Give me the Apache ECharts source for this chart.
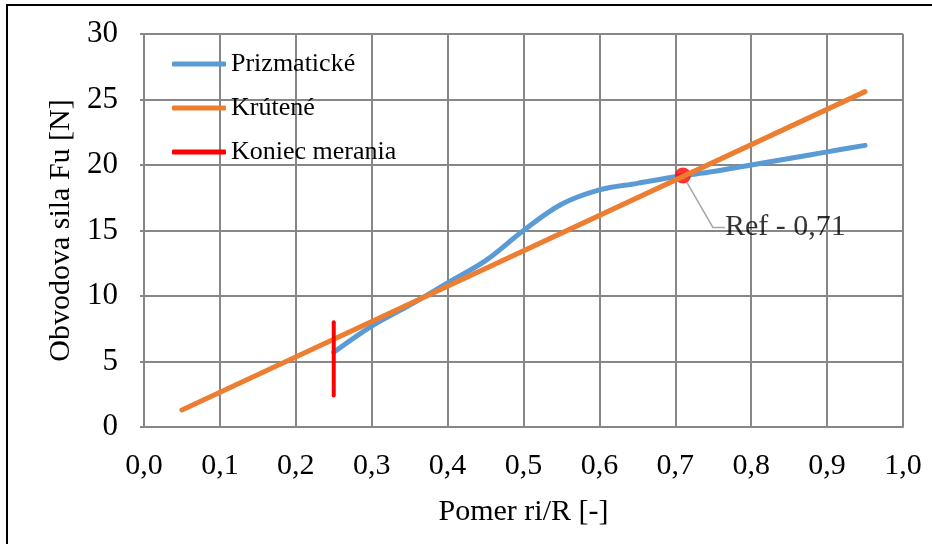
<!DOCTYPE html>
<html>
<head>
<meta charset="utf-8">
<script src="https://cdn.jsdelivr.net/npm/echarts@6/dist/echarts.min.js"></script>
<style>
  html, body { margin: 0; padding: 0; background: #fff; }
  #chart { width: 932px; height: 544px; }
</style>
</head>
<body>
<div id="chart"></div>
<script>
// Ratio ri/R on the x axis, circumferential force Fu [N] on the y axis
const prizmatickeX = [0.25, 0.30, 0.35, 0.40, 0.45, 0.50, 0.55, 0.60, 0.65, 0.70, 0.75, 0.80, 0.85, 0.90, 0.95];
const prizmatickeY = [5.7, 7.7, 9.3, 11.0, 12.7, 15.0, 17.0, 18.1, 18.6, 19.1, 19.5, 20.0, 20.5, 21.0, 21.5];

const kruteneX = [0.05, 0.95];
const kruteneY = [1.3, 25.6];

const koniecX = [0.25, 0.25];
const koniecY = [8.0, 2.4];

const refX = 0.71;
const refY = 19.2;
const refText = 'Ref - 0,71';

const seriesNames = ['Prizmatické', 'Krútené', 'Koniec merania'];
const xTitle = 'Pomer ri/R [-]';
const yTitle = 'Obvodova sila Fu [N]';

const pairs = (xs, ys) => xs.map((x, i) => [x, ys[i]]);

const FONT = 'Liberation Serif';
const GRID_COLOR = '#878787';

const chart = echarts.init(document.getElementById('chart'), null, { renderer: 'canvas' });

chart.setOption({
  animation: false,
  backgroundColor: '#fff',
  textStyle: { fontFamily: FONT },
  graphic: [{
    type: 'rect',
    shape: { x: 7, y: 5, width: 1000, height: 1000 },
    style: { fill: 'none', stroke: '#000', lineWidth: 2 },
    z: -1
  }],
  grid: { left: 144, right: 29, top: 34, bottom: 117, containLabel: false },
  legend: {
    orient: 'vertical',
    left: 167,
    top: 46,
    itemGap: 18,
    itemWidth: 54,
    itemHeight: 5,
    icon: 'roundRect',
    data: seriesNames,
    textStyle: { fontFamily: FONT, fontSize: 26, color: '#000' }
  },
  xAxis: {
    type: 'value',
    min: 0, max: 1, interval: 0.1,
    name: xTitle,
    nameLocation: 'middle',
    nameGap: 70,
    nameTextStyle: { fontFamily: FONT, fontSize: 30, color: '#000' },
    axisLine: { show: true, lineStyle: { color: GRID_COLOR, width: 2 } },
    axisTick: { show: false },
    axisLabel: {
      fontFamily: FONT, fontSize: 30, color: '#000', margin: 24,
      formatter: v => v.toFixed(1).replace('.', ',')
    },
    splitLine: { show: true, lineStyle: { color: GRID_COLOR, width: 2 } }
  },
  yAxis: {
    type: 'value',
    min: 0, max: 30, interval: 5,
    name: yTitle,
    nameLocation: 'middle',
    nameGap: 68,
    nameTextStyle: { fontFamily: FONT, fontSize: 30, color: '#000' },
    axisLine: { show: true, lineStyle: { color: GRID_COLOR, width: 2 } },
    axisTick: { show: true, length: 4, lineStyle: { color: GRID_COLOR, width: 2 } },
    axisLabel: { fontFamily: FONT, fontSize: 31, color: '#000', margin: 26 },
    splitLine: { show: true, lineStyle: { color: GRID_COLOR, width: 2 } }
  },
  series: [
    {
      name: seriesNames[0],
      type: 'line',
      data: pairs(prizmatickeX, prizmatickeY),
      smooth: 0.35,
      showSymbol: false,
      symbol: 'none',
      lineStyle: { color: '#5B9BD5', width: 5, cap: 'round' },
      itemStyle: { color: '#5B9BD5' },
      z: 2
    },
    {
      name: seriesNames[1],
      type: 'line',
      data: pairs(kruteneX, kruteneY),
      showSymbol: false,
      symbol: 'none',
      lineStyle: { color: '#ED7D31', width: 5, cap: 'round' },
      itemStyle: { color: '#ED7D31' },
      z: 3
    },
    {
      name: seriesNames[2],
      type: 'line',
      data: pairs(koniecX, koniecY),
      showSymbol: false,
      symbol: 'none',
      lineStyle: { color: '#FF0000', width: 4, cap: 'round' },
      itemStyle: { color: '#FF0000' },
      z: 4
    },
    {
      name: 'ref',
      type: 'scatter',
      data: [[refX, refY]],
      symbolSize: 16,
      itemStyle: { color: '#FF0000' },
      z: 2,
      label: {
        show: true,
        formatter: refText,
        position: 'right',
        distance: 0,
        fontFamily: FONT,
        fontSize: 30,
        color: '#000'
      },
      labelLayout: { dx: 34, dy: 52 },
      labelLine: {
        show: true,
        length2: 12,
        lineStyle: { color: '#A6A6A6', width: 1.5 }
      }
    }
  ]
});
</script>
</body>
</html>
